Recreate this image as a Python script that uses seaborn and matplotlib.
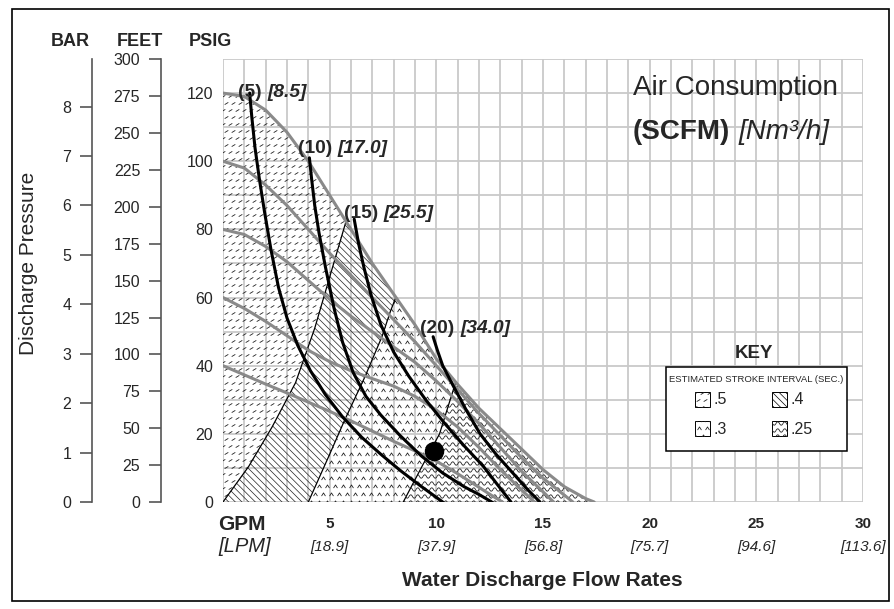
import numpy as np
import matplotlib
matplotlib.use("Agg")
import matplotlib.pyplot as plt
import seaborn as sns
from matplotlib.patches import Polygon, Rectangle
from matplotlib.path import Path
from matplotlib import font_manager

# -------------------------------
# Data (GPM, PSIG)
# -------------------------------
# air inlet pressure curves (gray); 120 psig is the outer envelope
p120_gpm = [0, 1, 2, 3, 4, 5, 6, 7, 8, 9, 10, 11, 12, 13, 14, 15, 16, 17, 17.4]
p120_psi = [120, 119, 115, 108.5, 100, 90, 80, 70, 61, 52, 42, 34.5, 27.5, 21.5, 15.5, 9.5, 4.5, 1, 0]
p100_gpm = [0, 1, 2, 3, 4, 5, 6, 7, 8, 9, 10, 11, 12, 13, 14, 15, 16, 16.4]
p100_psi = [100, 98, 93, 87, 80, 73, 66.5, 60, 53.5, 47, 40, 33, 26, 19.5, 13, 7, 2, 0]
p80_gpm = [0, 1, 2, 3, 4, 5, 6, 7, 8, 9, 10, 11, 12, 13, 14, 15, 15.5]
p80_psi = [80, 78.5, 75, 70.5, 65, 59.5, 54.5, 50, 45.5, 41, 35.5, 29.5, 23, 16, 9, 3, 0]
p60_gpm = [0, 1, 2, 3, 4, 5, 6, 7, 8, 9, 10, 11, 12, 13, 14, 14.6]
p60_psi = [60, 56.8, 53, 48.8, 44.5, 41.2, 38.5, 36.2, 34, 31, 27, 22, 16, 9.5, 3.5, 0]
p40_gpm = [0, 1, 2, 3, 4, 5, 6, 7, 8, 9, 10, 11, 12, 12.7, 13.1]
p40_psi = [40, 37.3, 34.6, 32, 29.3, 26.6, 23.8, 20.8, 17.8, 15, 12, 8.3, 4.3, 1.5, 0]

# air consumption curves (black), SCFM
c5_gpm = [1.25, 1.35, 1.5, 1.7, 1.95, 2.25, 2.6, 3.0, 3.5, 4.1, 4.8, 5.6, 6.5, 7.4, 8.3, 9.2, 10.3]
c5_psi = [120, 113, 104, 95, 85, 74, 63, 54, 46, 38.5, 31.5, 25, 19, 14, 9.3, 5, 0]
c10_gpm = [4.05, 4.15, 4.3, 4.5, 4.8, 5.2, 5.6, 6.1, 6.7, 7.4, 8.3, 9.3, 10.3, 11.3, 12.0, 12.6]
c10_psi = [101, 95, 87, 79, 69, 57, 47, 38, 31, 25.5, 19.5, 13.5, 8.5, 4.5, 2.2, 0]
c15_gpm = [6.15, 6.35, 6.6, 6.95, 7.4, 8.0, 8.7, 9.5, 10.4, 11.3, 12.2, 12.9, 13.5]
c15_psi = [83, 76, 69, 60.5, 52, 44, 37, 30, 23, 16.5, 10.5, 4.8, 0]
c20_gpm = [9.85, 10.05, 10.3, 10.8, 11.4, 12.05, 12.8, 13.6, 14.3, 14.86]
c20_psi = [48.5, 44.5, 40, 34, 27, 20, 14, 8.4, 3.5, 0]

# stroke interval boundaries (thin black)
b1_gpm = [0, 1.2, 2.3, 3.4, 4.3, 5.0, 5.75]
b1_psi = [0, 10.4, 22, 35, 51, 66, 82]
b2_gpm = [4.0, 4.95, 5.7, 6.65, 7.45, 7.85, 8.1]
b2_psi = [0, 13.3, 24, 36.7, 48.5, 56, 60]
b3_gpm = [8.45, 9.4, 10.15, 10.6, 10.9]
b3_psi = [0, 11.3, 20, 29, 35]

curve_labels = ["(5)", "(10)", "(15)", "(20)"]
curve_nm3 = ["[8.5]", "[17.0]", "[25.5]", "[34.0]"]
label_gpm = [0.72, 3.5, 5.65, 9.25]
label_psi = [120.2, 103.6, 84.8, 50.9]

dot_gpm = [9.91]
dot_psi = [15.0]

gpm_ticks = [5, 10, 15, 20, 25, 30]
lpm_labels = ["[18.9]", "[37.9]", "[56.8]", "[75.7]", "[94.6]", "[113.6]"]
psig_ticks = [0, 20, 40, 60, 80, 100, 120]
feet_ticks = [0, 25, 50, 75, 100, 125, 150, 175, 200, 225, 250, 275, 300]
bar_ticks = [0, 1, 2, 3, 4, 5, 6, 7, 8]

key_labels = [".5", ".4", ".3", ".25"]

# -------------------------------
# Style
# -------------------------------
sns.set_style("white")
plt.rcParams["font.family"] = ["Liberation Sans", "DejaVu Sans"]
plt.rcParams["hatch.linewidth"] = 0.5

names = {f.name for f in font_manager.fontManager.ttflist}
narrow = "Liberation Sans Narrow" in names

W, H = 895, 609
fig = plt.figure(figsize=(W / 100, H / 100), dpi=100)
ax = fig.add_axes([223 / W, 1 - 502 / H, 640 / W, 443 / H])
ax.set_xlim(0, 30)
ax.set_ylim(0, 130)
PX_X = 640 / 30   # pixels per GPM
PX_Y = 443 / 130  # pixels per psi

GRID = "#c9c9c9"
GRAY = "#8a8a8a"

ax.set_xticks(np.arange(0, 31, 1))
ax.set_xticklabels([])
ax.set_yticks(np.arange(0, 131, 10))
ax.set_yticklabels([str(v) if v in psig_ticks else "" for v in range(0, 131, 10)])
ax.tick_params(axis="both", length=0, labelsize=11.5, pad=7)
ax.grid(True, color=GRID, lw=1.3, zorder=0)
ax.set_axisbelow(True)
for s in ax.spines.values():
    s.set_visible(False)

# -------------------------------
# Texture helpers (fill patterns, not data)
# -------------------------------
dash_mk = Path([(-1, -0.6), (1, 0.6)], [Path.MOVETO, Path.LINETO])
chev_mk = Path([(-1, -0.8), (0, 0.8), (1, -0.8)], [Path.MOVETO, Path.LINETO, Path.LINETO])
wave_mk = Path([(-1, 0), (-0.5, 1), (0, 0), (0.5, -1), (1, 0)],
               [Path.MOVETO, Path.CURVE3, Path.CURVE3, Path.CURVE3, Path.CURVE3])

TEX = {
    "dash": dict(marker=dash_mk, ms=2.6, sx=7, sy=7, stagger=True),
    "chev": dict(marker=chev_mk, ms=2.8, sx=8, sy=8, stagger=True),
    "wave": dict(marker=wave_mk, ms=5.0, sx=7, sy=6.5, stagger=False),
}


def texture(patch, kind, x0, x1, y0, y1, z=2):
    t = TEX[kind]
    dx, dy = t["sx"] / PX_X, t["sy"] / PX_Y
    X, Y = np.meshgrid(np.arange(x0, x1 + dx, dx), np.arange(y0, y1 + dy, dy))
    if t["stagger"]:
        X[1::2] += dx / 2
    ln, = ax.plot(X.ravel(), Y.ravel(), ls="none", marker=t["marker"], ms=t["ms"],
                  mew=0.6, mec="#222222", mfc="none", zorder=z)
    ln.set_clip_path(patch)


env_x = np.array(p120_gpm)
env_y = np.array(p120_psi)


def along_env(a, b):
    xs = np.r_[a, env_x[(env_x > a) & (env_x < b)], b]
    return np.column_stack([xs, np.interp(xs, env_x, env_y)])


b1 = np.column_stack([b1_gpm, b1_psi])
b2 = np.column_stack([b2_gpm, b2_psi])
b3 = np.column_stack([b3_gpm, b3_psi])

reg5 = np.vstack([b1, along_env(0, b1[-1, 0])[::-1]])
reg4 = np.vstack([b1, along_env(b1[-1, 0], b2[-1, 0]), b2[::-1]])
reg3 = np.vstack([b2, along_env(b2[-1, 0], b3[-1, 0]), b3[::-1]])
reg25 = np.vstack([b3, along_env(b3[-1, 0], env_x[-1])])

for poly, kind in [(reg5, "dash"), (reg3, "chev"), (reg25, "wave")]:
    p = Polygon(poly, closed=True, fc="none", ec="none", lw=0)
    ax.add_patch(p)
    texture(p, kind, 0, 18, 0, 122)
ax.add_patch(Polygon(reg4, closed=True, fc="none", ec="#222222", lw=0,
                     hatch="\\\\\\\\\\", zorder=2))

# boundaries
for bx, by in [(b1_gpm, b1_psi), (b2_gpm, b2_psi), (b3_gpm, b3_psi)]:
    sns.lineplot(x=bx, y=by, ax=ax, color="black", lw=0.9, zorder=3)

# air pressure curves
for gx, gy in [(p120_gpm, p120_psi), (p100_gpm, p100_psi), (p80_gpm, p80_psi),
               (p60_gpm, p60_psi), (p40_gpm, p40_psi)]:
    sns.lineplot(x=gx, y=gy, ax=ax, color=GRAY, lw=2.2, zorder=4)

# air consumption curves
for cx, cy in [(c5_gpm, c5_psi), (c10_gpm, c10_psi), (c15_gpm, c15_psi), (c20_gpm, c20_psi)]:
    sns.lineplot(x=cx, y=cy, ax=ax, color="black", lw=2.2, zorder=5)

ax.plot(dot_gpm, dot_psi, "o", color="black", ms=13, zorder=6)

# curve labels
for lab, nm, lx, ly in zip(curve_labels, curve_nm3, label_gpm, label_psi):
    t1 = ax.text(lx, ly, lab, fontsize=13.8, fontweight="bold", va="center", ha="left", zorder=7)
    ax.annotate(nm, xy=(1, 0), xycoords=t1, xytext=(4, 0), textcoords="offset points",
                fontsize=13.8, fontweight="bold", fontstyle="italic", va="bottom", ha="left", zorder=7)

# -------------------------------
# Key
# -------------------------------
def px2d(px, py):
    return (px - 223) / PX_X, (502 - py) / PX_Y


kx0, ky0 = px2d(666, 451)
kx1, ky1 = px2d(847, 367)
ax.add_patch(Rectangle((kx0, ky0), kx1 - kx0, ky1 - ky0, fc="white", ec="black", lw=1.1, zorder=8))
ax.text(*px2d(754, 354), "KEY", fontsize=13.5, fontweight="bold", ha="center", va="center", zorder=9)
if narrow:
    ax.text(*px2d(755, 380), "ESTIMATED STROKE INTERVAL (SEC.)", fontsize=8.6,
            family="Liberation Sans Narrow", ha="center", va="center", zorder=9)
else:
    ax.text(*px2d(756, 380), "ESTIMATED STROKE INTERVAL (SEC.)", fontsize=6.8,
            ha="center", va="center", zorder=9)

sw_pos = [(695, 392), (772, 392), (695, 421), (772, 421)]
sw_kind = ["dash", "hatch", "chev", "wave"]
for (sx, sy), kind, lab in zip(sw_pos, sw_kind, key_labels):
    x0, y1 = px2d(sx, sy)
    x1, y0 = px2d(sx + 15, sy + 15)
    if kind == "hatch":
        r = Rectangle((x0, y0), x1 - x0, y1 - y0, fc="white", ec="black", lw=0.7,
                      hatch="\\\\\\\\\\", zorder=9)
        ax.add_patch(r)
    else:
        r = Rectangle((x0, y0), x1 - x0, y1 - y0, fc="white", ec="black", lw=0.7, zorder=9)
        ax.add_patch(r)
        texture(r, kind, x0, x1, y0, y1, z=10)
    ax.text(*px2d(sx + 19, sy + 8), lab, fontsize=11.5, ha="left", va="center", zorder=10)

# -------------------------------
# Extra pressure scales
# -------------------------------
sec_ft = ax.secondary_yaxis(-62 / 640, functions=(lambda p: p * 2.31, lambda f: f / 2.31))
sec_bar = ax.secondary_yaxis(-131 / 640, functions=(lambda p: p / 14.5038, lambda b: b * 14.5038))
sec_ft.set_yticks(feet_ticks)
sec_bar.set_yticks(bar_ticks)
for sec in (sec_ft, sec_bar):
    for s in sec.spines.values():
        s.set_color("#555555")
        s.set_linewidth(1.2)
    sec.tick_params(axis="y", length=9, width=1.2, color="#555555", labelsize=11.5, pad=6)

# headers and titles
fig.text(70 / W, 1 - 42 / H, "BAR", fontsize=13, fontweight="bold", ha="center", va="center")
fig.text(140 / W, 1 - 42 / H, "FEET", fontsize=13, fontweight="bold", ha="center", va="center")
fig.text(210 / W, 1 - 42 / H, "PSIG", fontsize=13, fontweight="bold", ha="center", va="center")
fig.text(29 / W, 1 - 263 / H, "Discharge Pressure", fontsize=15, rotation=90, ha="center", va="center")

fig.text(633 / W, 1 - 95 / H, "Air Consumption", fontsize=20, ha="left", va="baseline")
t_scfm = fig.text(633 / W, 1 - 139 / H, "(SCFM)", fontsize=20, fontweight="bold", ha="left", va="baseline")
ax.annotate("[Nm\u00b3/h]", xy=(1, 0), xycoords=t_scfm, xytext=(6, 0), textcoords="offset points",
            fontsize=20, fontstyle="italic", ha="left", va="bottom")

xt = ax.get_xaxis_transform()
for g, l in zip(gpm_ticks, lpm_labels):
    ax.text(g, -22 / 443, str(g), transform=xt, fontsize=11, fontweight="bold", ha="center", va="center")
    ax.text(g, -45 / 443, l, transform=xt, fontsize=11, fontstyle="italic", ha="center", va="center")
fig.text(218 / W, 1 - 524 / H, "GPM", fontsize=15, fontweight="bold", ha="left", va="center")
fig.text(218 / W, 1 - 547 / H, "[LPM]", fontsize=14.5, fontstyle="italic", ha="left", va="center")
fig.text(542 / W, 1 - 580 / H, "Water Discharge Flow Rates", fontsize=15, fontweight="bold",
         ha="center", va="center")

# outer frame
fig.patches.append(Rectangle((12 / W, 1 - 601 / H), 877 / W, 592 / H, transform=fig.transFigure,
                             fill=False, ec="black", lw=1.2))

fig.savefig("out.png", dpi=100)
